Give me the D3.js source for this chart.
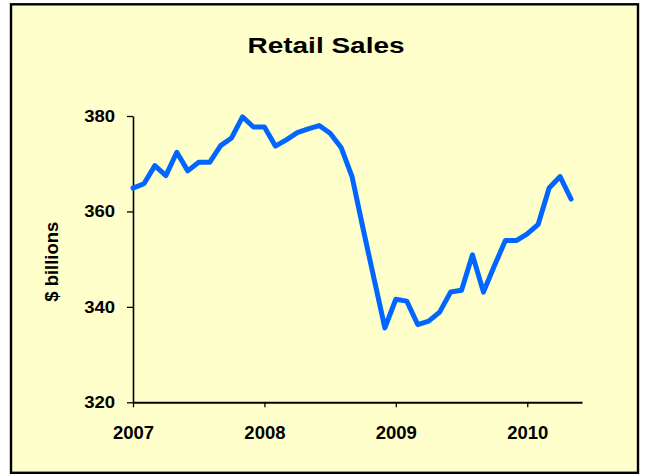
<!DOCTYPE html>
<html>
<head>
<meta charset="utf-8">
<script src="https://cdn.jsdelivr.net/npm/d3@7"></script>
<style>
  html, body { margin: 0; padding: 0; background: #ffffff; }
  svg { display: block; }
  text { font-family: "Liberation Sans", Arial, sans-serif; font-weight: bold; fill: #000; }
</style>
</head>
<body>
<svg id="chart" width="646" height="475"></svg>
<script>
// Monthly retail sales, January 2007 through May 2010 ($ billions)
const months = d3.range(41).map(i => new Date(2007, i, 1));
const sales = [
  364.9, 365.8, 369.6, 367.5, 372.4, 368.5, 370.3, 370.3, 373.8, 375.4, 379.8, 377.7,
  377.7, 373.7, 375.0, 376.5, 377.3, 378.0, 376.4, 373.4, 367.3, 356.5, 346.0, 335.6,
  341.6, 341.2, 336.3, 337.0, 338.9, 343.1, 343.5, 350.9, 343.1, 348.6, 353.9, 353.9,
  355.3, 357.3, 364.9, 367.3, 362.6
];
const yearTicks = ["2007", "2008", "2009", "2010"];
const valueTicks = [320, 340, 360, 380];
const title = "Retail Sales";
const yLabel = "$ billions";

const svg = d3.select("#chart");

// Panel background and frame
svg.append("rect")
  .attr("x", 11).attr("y", 4.3)
  .attr("width", 627).attr("height", 468.5)
  .attr("fill", "#ffffcc")
  .attr("stroke", "#000")
  .attr("stroke-width", 2.4);

const x = d3.scaleLinear().domain([0, 41]).range([133, 582]);
const y = d3.scaleLinear().domain([320, 380]).range([402.3, 116]);

// Title
svg.append("text")
  .attr("transform", "translate(326,52.7) scale(1,0.8)")
  .attr("text-anchor", "middle")
  .style("font-size", "28px")
  .text(title);

// Y axis
const yAxis = svg.append("g")
  .attr("transform", `translate(${x(0)},0)`)
  .call(d3.axisLeft(y).tickValues(valueTicks).tickSize(6).tickPadding(12).tickSizeOuter(0));
yAxis.select(".domain").attr("stroke", "#000").attr("stroke-width", 1.6);
yAxis.selectAll(".tick line").attr("stroke", "#000").attr("stroke-width", 1.3);
yAxis.selectAll(".tick text")
  .style("font-size", "18.5px")
  .attr("transform", "scale(1,0.87)");

// X axis (years)
const xAxis = svg.append("g")
  .attr("transform", `translate(0,${y(320)})`)
  .call(d3.axisBottom(x)
    .tickValues(yearTicks.map((_, i) => i * 12))
    .tickFormat((d, i) => yearTicks[i])
    .tickSize(5).tickPadding(19).tickSizeOuter(0));
xAxis.select(".domain").attr("stroke", "#000").attr("stroke-width", 2);
xAxis.selectAll(".tick line").attr("stroke", "#000").attr("stroke-width", 1.3);
xAxis.selectAll(".tick text").style("font-size", "18.5px");

// Y axis title
svg.append("text")
  .attr("transform", `translate(58,${(221.7 + 301.7) / 2}) rotate(-90)`)
  .attr("text-anchor", "middle")
  .style("font-size", "18.5px")
  .text(yLabel);

// Sales line
const line = d3.line()
  .x((d, i) => x(i))
  .y(d => y(d));

svg.append("path")
  .datum(sales)
  .attr("d", line)
  .attr("fill", "none")
  .attr("stroke", "#0066ff")
  .attr("stroke-width", 5)
  .attr("stroke-linejoin", "round")
  .attr("stroke-linecap", "round");
</script>
</body>
</html>
